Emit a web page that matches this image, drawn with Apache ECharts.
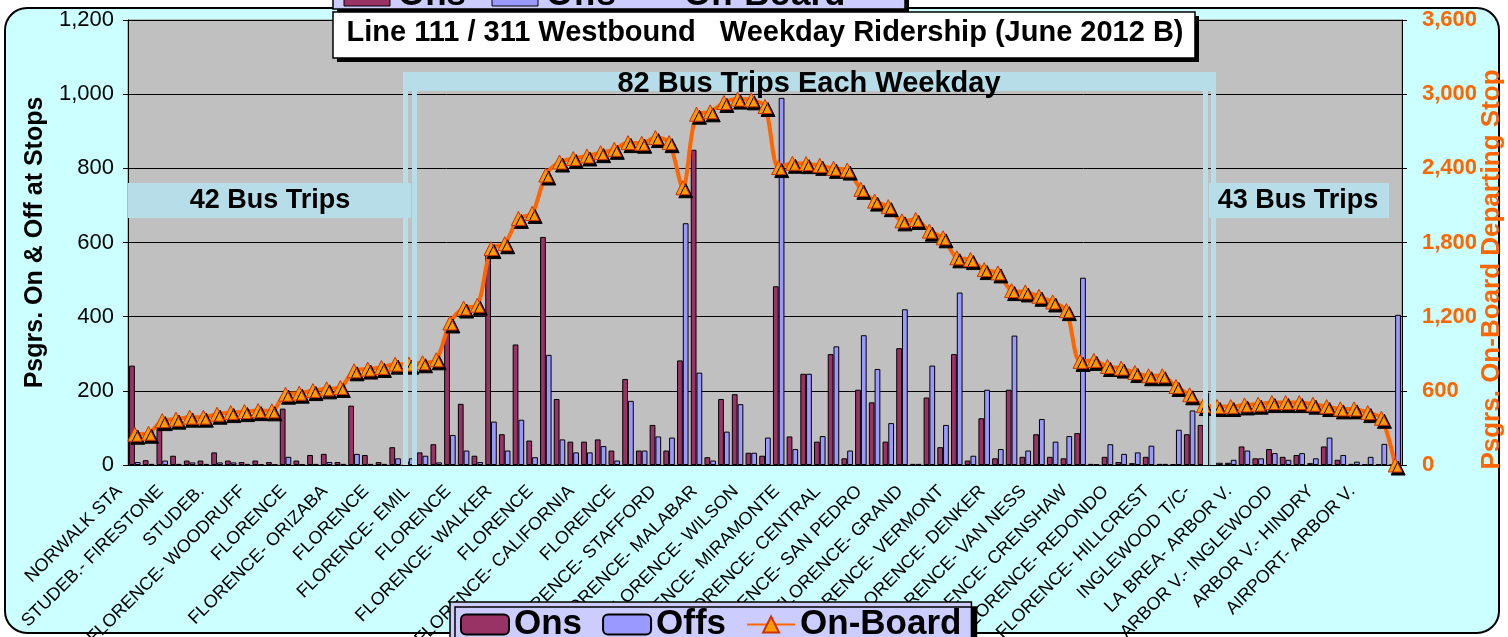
<!DOCTYPE html>
<html><head><meta charset="utf-8">
<script src="https://cdn.jsdelivr.net/npm/echarts@6/dist/echarts.min.js"></script>
<style>html,body{margin:0;padding:0;background:#fff;}#c{width:1508px;height:637px;}</style>
</head><body><div id="c"></div>
<script>
// Stop labels (every third stop is labelled in the original)
const stopLabels = [
 'NORWALK STA','','','STUDEB.- FIRESTONE','','','STUDEB.','','','FLORENCE- WOODRUFF','','',
 'FLORENCE','','','FLORENCE- ORIZABA','','','FLORENCE','','','FLORENCE- EMIL','','',
 'FLORENCE','','','FLORENCE- WALKER','','','FLORENCE','','','FLORENCE- CALIFORNIA','','',
 'FLORENCE','','','FLORENCE- STAFFORD','','','FLORENCE- MALABAR','','','FLORENCE- WILSON','','',
 'FLORENCE- MIRAMONTE','','','FLORENCE- CENTRAL','','','FLORENCE- SAN PEDRO','','','FLORENCE- GRAND','','',
 'FLORENCE- VERMONT','','','FLORENCE- DENKER','','','FLORENCE- VAN NESS','','','FLORENCE- CRENSHAW','','',
 'FLORENCE- REDONDO','','','FLORENCE- HILLCREST','','','INGLEWOOD T/C-','','','LA BREA- ARBOR V.','','',
 'ARBOR V.- INGLEWOOD','','','ARBOR V.- HINDRY','','','AIRPORT- ARBOR V.','',''
];
const ons = [268,13,100,25,12,12,34,12,8,12,8,152,12,27,30,8,160,27,8,48,10,34,56,360,165,25,575,83,325,66,
 615,178,63,63,69,39,232,39,108,39,282,850,21,178,191,33,25,482,77,246,63,299,18,203,169,63,315,3,182,48,
 299,12,126,18,203,22,83,22,18,86,3,22,8,5,22,3,2,83,108,6,6,50,18,43,22,27,5,50,14,3,2,2,0];
const offs = [8,3,12,3,7,3,7,7,3,2,1,22,2,3,8,3,30,3,3,18,18,25,7,81,39,8,117,39,122,21,
 297,69,34,34,51,12,173,39,77,74,652,249,12,90,164,33,74,990,43,246,78,320,39,350,259,113,420,3,268,108,
 465,25,203,43,349,39,124,63,78,505,2,56,30,34,52,3,95,147,195,6,14,39,18,32,14,32,18,74,27,9,22,57,405];
const onBoard = [249,257,359,371,387,387,411,424,432,440,438,573,581,602,616,627,762,776,789,816,816,827,851,1149,1270,1292,1751,1790,1995,2035,
 2346,2451,2479,2500,2527,2554,2608,2603,2649,2608,2243,2838,2857,2933,2960,2954,2900,2406,2441,2438,2424,2400,2386,2230,2135,2090,1975,1986,1892,1838,
 1676,1662,1581,1554,1411,1400,1365,1319,1249,838,846,797,784,748,722,722,635,568,481,473,473,486,492,505,505,505,492,473,454,454,424,378,0];
const leftAxis = {min:0, max:1200, step:200};
const rightAxis = {min:0, max:3600, step:600};
const seriesNames = ['Ons', 'Offs', 'On-Board'];

const band = '#B7DEE8';
const chart = echarts.init(document.getElementById('c'));
const fam = 'Liberation Sans, Arial, sans-serif';
chart.setOption({
  backgroundColor: '#fff',
  animation: false,
  textStyle: {fontFamily: fam},
  grid: {left: 128, right: 106, top: 20, bottom: 172, outerBoundsMode: 'none', containLabel: false,
         show: true, backgroundColor: '#C0C0C0', borderColor: '#808080', borderWidth: 1},
  legend: {
    left: 450, top: 602, itemWidth: 48, itemHeight: 20, itemGap: 20, padding: [5, 10, 12, 10],
    backgroundColor: '#CCCCFF', borderColor: '#000', borderWidth: 1.5,
    shadowColor: '#000', shadowOffsetX: 5, shadowOffsetY: 5, shadowBlur: 0,
    textStyle: {fontSize: 35, fontWeight: 'bold', color: '#000', fontFamily: fam},
    data: seriesNames, z: 20
  },
  xAxis: {
    type: 'category', data: stopLabels, boundaryGap: true,
    axisLine: {lineStyle: {color: '#000', width: 1}},
    axisTick: {interval: 0, length: 5, lineStyle: {color: '#000'}},
    axisLabel: {interval: 0, rotate: 45, fontSize: 18, color: '#000', margin: 8, padding: [0, 22, 12, 0], fontFamily: fam}
  },
  yAxis: [{
    type: 'value', min: leftAxis.min, max: leftAxis.max, interval: leftAxis.step,
    name: 'Psgrs. On & Off at Stops', nameLocation: 'middle', nameGap: 80, nameRotate: 90, nameMoveOverlap: false,
    nameTextStyle: {fontSize: 25, fontWeight: 'bold', color: '#000', fontFamily: fam},
    axisLine: {show: true, lineStyle: {color: '#000'}},
    axisTick: {show: true, length: 5, lineStyle: {color: '#000'}},
    axisLabel: {fontSize: 22, color: '#000', margin: 14, formatter: v => v.toLocaleString('en-US'), fontFamily: fam},
    splitLine: {lineStyle: {color: '#000', width: 1}}
  }, {
    type: 'value', min: rightAxis.min, max: rightAxis.max, interval: rightAxis.step, position: 'right',
    name: 'Psgrs. On-Board Departing Stop', nameLocation: 'middle', nameGap: 77, nameRotate: 90, nameMoveOverlap: false,
    nameTextStyle: {fontSize: 26, fontWeight: 'bold', color: '#FF6600', fontFamily: fam, padding: [0, 54, 0, 0]},
    axisLine: {show: true, lineStyle: {color: '#000'}},
    axisTick: {show: true, length: 5, lineStyle: {color: '#000'}},
    axisLabel: {fontSize: 22, fontWeight: 'bold', color: '#FF6600', margin: 20, formatter: v => v.toLocaleString('en-US'), fontFamily: fam},
    splitLine: {show: false}
  }],
  series: [{
    name: seriesNames[0], type: 'bar', data: ons, barGap: '0%', barCategoryGap: '16%',
    itemStyle: {color: '#993366', borderColor: '#000', borderWidth: 1}
  }, {
    name: seriesNames[1], type: 'bar', data: offs,
    itemStyle: {color: '#9999FF', borderColor: '#000', borderWidth: 1}
  }, {
    name: seriesNames[2], type: 'line', yAxisIndex: 1, data: onBoard, smooth: 0.3, z: 5,
    symbol: 'triangle', symbolSize: 14,
    lineStyle: {color: '#FF6600', width: 4},
    itemStyle: {color: '#FF9900', borderColor: '#CC3300', borderWidth: 1, shadowColor: '#000', shadowOffsetX: 3, shadowOffsetY: 3, shadowBlur: 0}
  }],
  graphic: [
    {type: 'rect', z: -10, shape: {x: 5, y: 8, width: 1494, height: 625, r: 22}, style: {fill: '#CCFFFF', stroke: '#000', lineWidth: 2}},
    // fragment of the chart above (its legend box)
    {type: 'rect', z: -5, shape: {x: 337, y: -26, width: 572, height: 39}, style: {fill: '#000'}},
    {type: 'rect', z: -4, shape: {x: 333, y: -30, width: 572, height: 39}, style: {fill: '#CCCCFF', stroke: '#000', lineWidth: 1.5}},
    {type: 'rect', z: -3, shape: {x: 344, y: -14, width: 46, height: 20}, style: {fill: '#993366', stroke: '#000', lineWidth: 1}},
    {type: 'text', z: -3, style: {x: 398, y: 13, text: 'Ons', fill: '#000', font: 'bold 35px ' + fam, verticalAlign: 'bottom'}},
    {type: 'rect', z: -3, shape: {x: 492, y: -14, width: 46, height: 20}, style: {fill: '#9999FF', stroke: '#000', lineWidth: 1}},
    {type: 'text', z: -3, style: {x: 546, y: 13, text: 'Offs', fill: '#000', font: 'bold 35px ' + fam, verticalAlign: 'bottom'}},
    {type: 'rect', z: -3, shape: {x: 628, y: -6, width: 46, height: 4}, style: {fill: '#FF6600'}},
    {type: 'text', z: -3, style: {x: 684, y: 13, text: 'On-Board', fill: '#000', font: 'bold 35px ' + fam, verticalAlign: 'bottom'}},
    // 42 / 43 bus trips boxes
    {type: 'rect', z: 50, shape: {x: 128, y: 183, width: 283, height: 35}, style: {fill: band}},
    {type: 'text', z: 51, style: {x: 270, y: 201, text: '42 Bus Trips', fill: '#000', font: 'bold 27px ' + fam, align: 'center', verticalAlign: 'middle'}},
    {type: 'rect', z: 50, shape: {x: 1209, y: 183, width: 180, height: 35}, style: {fill: band}},
    {type: 'text', z: 51, style: {x: 1298, y: 201, text: '43 Bus Trips', fill: '#000', font: 'bold 27px ' + fam, align: 'center', verticalAlign: 'middle'}},
    // 82 trips frame
    {type: 'rect', z: 50, shape: {x: 403, y: 72, width: 813, height: 19}, style: {fill: band}},
    {type: 'rect', z: 50, shape: {x: 403, y: 72, width: 5, height: 393}, style: {fill: band}},
    {type: 'rect', z: 50, shape: {x: 412, y: 90, width: 5, height: 375}, style: {fill: band}},
    {type: 'rect', z: 50, shape: {x: 1203, y: 90, width: 5, height: 375}, style: {fill: band}},
    {type: 'rect', z: 50, shape: {x: 1211, y: 72, width: 5, height: 393}, style: {fill: band}},
    {type: 'text', z: 51, style: {x: 809, y: 84, text: '82 Bus Trips Each Weekday', fill: '#000', font: 'bold 29px ' + fam, align: 'center', verticalAlign: 'middle'}},
    // title box
    {type: 'rect', z: 52, shape: {x: 337, y: 16, width: 862, height: 46}, style: {fill: '#000'}},
    {type: 'rect', z: 53, shape: {x: 333, y: 12, width: 862, height: 46}, style: {fill: '#fff', stroke: '#000', lineWidth: 1.5}},
    {type: 'text', z: 54, style: {x: 765, y: 33, text: 'Line 111 / 311 Westbound   Weekday Ridership (June 2012 B)', fill: '#000', font: 'bold 29px ' + fam, align: 'center', verticalAlign: 'middle'}}
  ]
});
</script></body></html>
